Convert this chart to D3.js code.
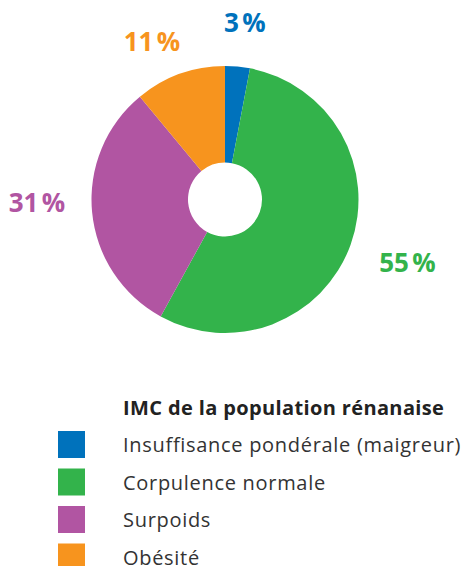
<!DOCTYPE html>
<html><head><meta charset="utf-8">
<script src="https://cdn.jsdelivr.net/npm/d3@7"></script>
<style>body{margin:0;background:#fff}svg{display:block}</style>
</head><body>
<svg id="c" width="462" height="566"></svg>
<script>
const categories = ["Insuffisance pondérale (maigreur)", "Corpulence normale", "Surpoids", "Obésité"];
const values = [3, 55, 31, 11];
const labels = ["3\u202f%", "55\u202f%", "31\u202f%", "11\u202f%"];
const colors = ["#0072bc", "#33b34b", "#b155a2", "#f7941e"];
const legendTitle = "IMC de la population rénanaise";

const FONT = "'Open Sans', Lato, sans-serif";
const svg = d3.select("#c");
const cx = 225, cy = 199.5, R = 133.5, r = 37;
const g = svg.append("g").attr("transform", `translate(${cx},${cy})`);
const pie = d3.pie().sort(null).value(d => d);
const arcs = pie(values);
const arc = d3.arc().innerRadius(r).outerRadius(R);
g.selectAll("path").data(arcs).join("path")
  .attr("d", arc).attr("fill", (d, i) => colors[i]);

// label layout: radius and small angular nudges (degrees) per slice
const layout = { radius: [178, 193, 188, 174], nudge: [1, -0.8, 4.5, -5] };
g.selectAll("text").data(arcs).join("text")
  .attr("transform", (d, i) => {
    const a = (d.startAngle + d.endAngle) / 2 + layout.nudge[i] * Math.PI / 180;
    const rr = layout.radius[i];
    return `translate(${rr * Math.sin(a)},${-rr * Math.cos(a)})`;
  })
  .attr("text-anchor", "middle").attr("dy", "0.36em")
  .attr("fill", (d, i) => colors[i])
  .style("font-family", FONT)
  .style("font-weight", 700).style("font-size", "26px")
  .style("letter-spacing", "0.3px")
  .text((d, i) => labels[i]);

const lg = svg.append("g");
lg.append("text").attr("x", 123).attr("y", 415)
  .attr("fill", "#222")
  .style("font-family", FONT).style("font-weight", 700).style("font-size", "20px")
  .style("letter-spacing", "0.37px")
  .text(legendTitle);
const rowY = d3.scaleLinear().domain([0, 1]).range([431, 468.5]);
const rows = lg.selectAll("g.row").data(categories).join("g").attr("class", "row")
  .attr("transform", (d, i) => `translate(0,${rowY(i)})`);
rows.append("rect").attr("x", 58).attr("y", 0).attr("width", 27).attr("height", 27)
  .attr("fill", (d, i) => colors[i]);
rows.append("text").attr("x", 123).attr("y", 21)
  .attr("fill", "#333")
  .style("font-family", FONT).style("font-size", "20px")
  .style("letter-spacing", "0.7px")
  .text(d => d);
</script>
</body></html>
